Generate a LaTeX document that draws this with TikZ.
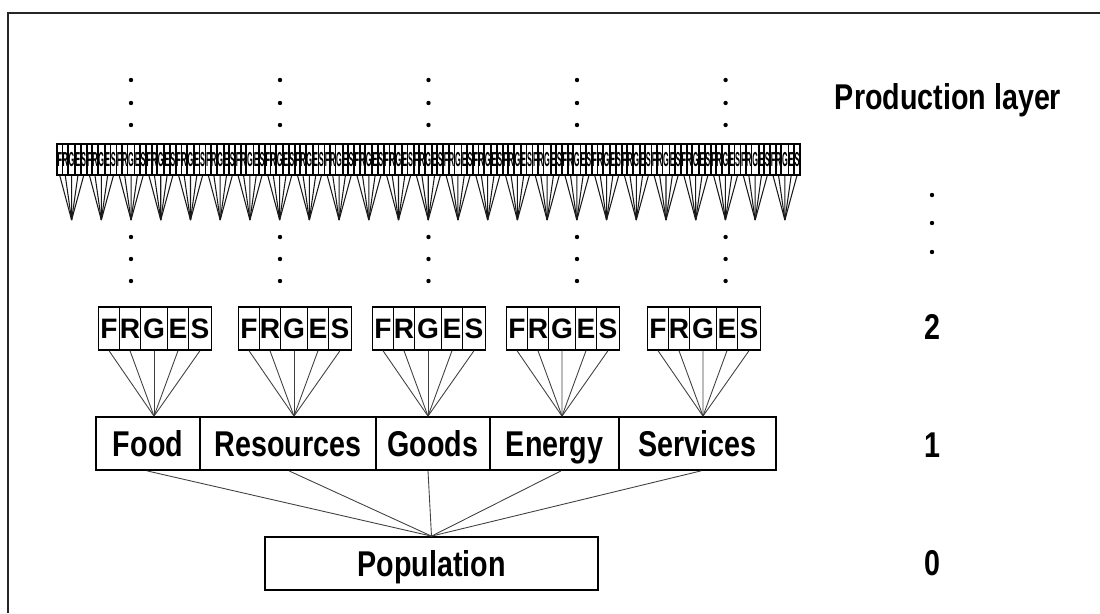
\documentclass[tikz,border=0pt]{standalone}
\usepackage{fontspec}
\newfontfamily\labfont[FakeStretch=0.8]{Liberation Sans}
\newfontfamily\letfont{Liberation Sans}
\usetikzlibrary{calc}
\begin{document}
\begin{tikzpicture}[x=0.02cm,y=-0.02cm,
  bigbox/.style={draw, line width=1pt, minimum height=53*0.02cm, inner sep=0pt,
    text height=14.6pt, text depth=0pt,
    font=\labfont\bfseries\fontsize{20.4}{24}\selectfont},
  letbox/.style={draw, line width=0.8pt, minimum height=43*0.02cm, inner sep=0pt,
    text height=11.5pt, text depth=0pt,
    font=\letfont\bfseries\fontsize{16}{18}\selectfont},
  tinybox/.style={draw, line width=1pt, minimum height=43*0.02cm, inner sep=0pt,
    text height=11pt, text depth=0pt,
    font=\letfont\bfseries\fontsize{16}{18}\selectfont},
  conn/.style={line width=0.5pt, black!75},
  tconn/.style={line width=0.6pt, black!90},
  lab/.style={font=\labfont\bfseries\fontsize{20.4}{24}\selectfont, inner sep=0pt},
  dotc/.style={fill=black}]
\useasboundingbox (0,0) rectangle (1100,613);
% frame
\draw[line width=1.2pt, black!85] (8,613) -- (8,13) -- (1100,13);

% dots
\foreach \x in {131,280,428.5,577,725.6} {
  \foreach \y in {80,103,125,237,259,281} {
    \fill[dotc] (\x,\y) circle (2.2);
  }
}
\foreach \y in {195,223,252} \fill[dotc] (932,\y) circle (2.2);

% tiny production band
\foreach \i in {0,...,24} {
  \pgfmathsetmacro\bx{57+29.72*\i}
  \begin{scope}[shift={(\bx,144)}, xscale=0.263, yscale=0.72, transform shape]
    \foreach \L/\w/\o in {F/21/10.5, R/21/31.5, G/27/55.5, E/21/79.5, S/23/101.5} {
      \node[tinybox, minimum width=\w*0.02cm] (t\i\L) at (\o,21.5) {\L};
    }
  \end{scope}
  \coordinate (ta\i) at (\bx+14.6,220);
  \foreach \L in {F,R,G,E,S} \draw[tconn] (t\i\L.south) -- (ta\i);
}

% level 1 boxes
\node[bigbox, minimum width=104*0.02cm] (food) at (148,443.5) {Food};
\node[bigbox, minimum width=176*0.02cm] (res) at (288,443.5) {Resources};
\node[bigbox, minimum width=114*0.02cm] (goods) at (433,443.5) {Goods};
\node[bigbox, minimum width=129*0.02cm] (energy) at (554.5,443.5) {Energy};
\node[bigbox, minimum width=157*0.02cm] (serv) at (697.5,443.5) {Services};

% population
\node[bigbox, minimum width=333*0.02cm] (pop) at (431.5,563.5) {Population};

% level 2 groups
\foreach \g/\a/\tgt/\dx in {1/154/food/6, 2/294/res/6, 3/428/goods/-5, 4/562/energy/7.5, 5/703/serv/5.5} {
  \foreach \L/\w/\o in {F/21/-45, R/21/-24, G/27/0, E/21/24, S/23/46} {
    \node[letbox, minimum width=\w*0.02cm] (l\g\L) at (\a+\o,328.5) {\L};
    \draw[conn] (l\g\L.south) -- ($(\tgt.north)+(\dx,0)$);
  }
}

% level 1 -> population
\draw[conn] ($(food.south)+(-1,0)$) -- (pop.north);
\draw[conn] ($(res.south)+(1,0)$) -- (pop.north);
\draw[conn] ($(goods.south)+(-5,0)$) -- (pop.north);
\draw[conn] ($(energy.south)+(6.5,0)$) -- (pop.north);
\draw[conn] ($(serv.south)+(3.5,0)$) -- (pop.north);

% layer labels
\node[lab] (lprod) at (948,100) {Production layer};
\node[lab] (l2) at (932,327) {2};
\node[lab] (l1) at (932,445) {1};
\node[lab] (l0) at (932,563) {0};
\end{tikzpicture}
\end{document}
